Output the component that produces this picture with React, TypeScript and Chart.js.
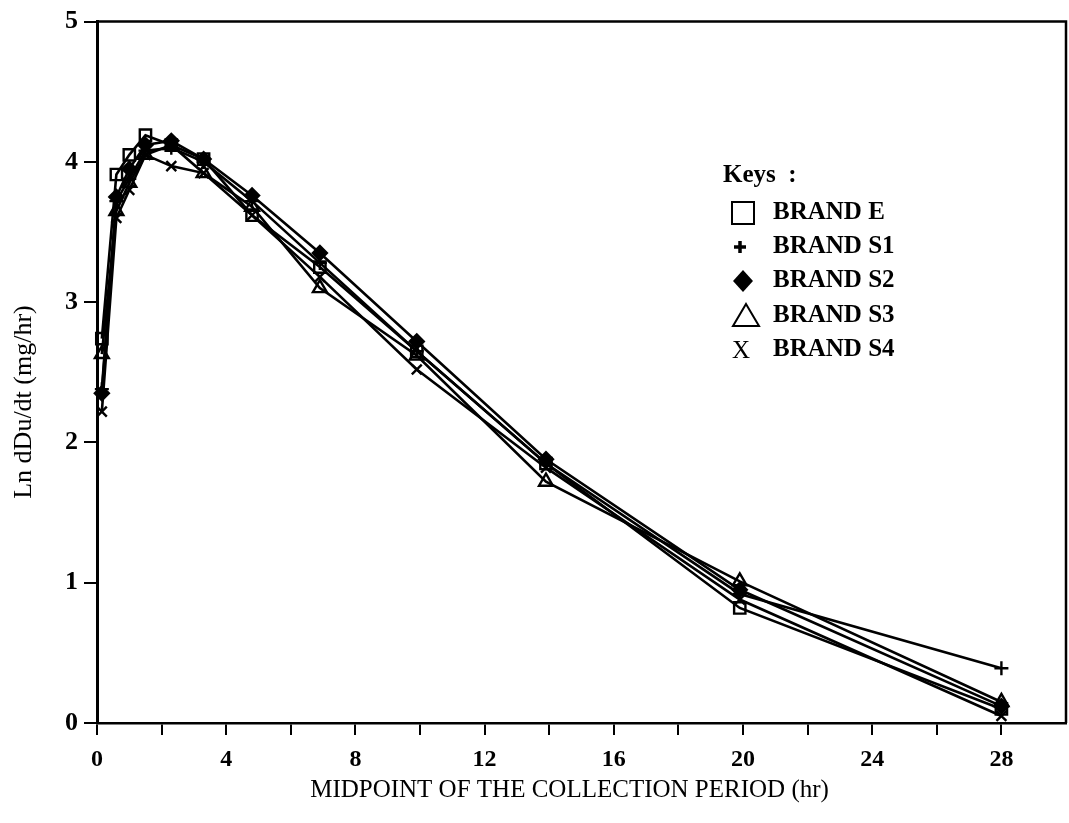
import React, { useEffect, useRef } from 'react';
import { Chart, registerables } from 'chart.js';

Chart.register(...registerables);

// Midpoint of the collection period (hr)
const hours = [0.15, 0.6, 1.0, 1.5, 2.3, 3.3, 4.8, 6.9, 9.9, 13.9, 19.9, 28];
// Ln dDu/dt (mg/hr)
const brandE = [2.74, 3.91, 4.05, 4.19, 4.12, 4.02, 3.62, 3.25, 2.65, 1.85, 0.82, 0.1];
const brandS1 = [2.38, 3.72, 3.88, 4.08, 4.1, 4.0, 3.72, 3.28, 2.65, 1.85, 0.92, 0.39];
const brandS2 = [2.35, 3.75, 3.95, 4.12, 4.15, 4.02, 3.76, 3.35, 2.72, 1.88, 0.95, 0.12];
const brandS3 = [2.63, 3.65, 3.85, 4.05, 4.12, 3.92, 3.68, 3.1, 2.62, 1.72, 1.01, 0.15];
const brandS4 = [2.22, 3.6, 3.8, 4.05, 3.97, 3.92, 3.62, 3.18, 2.52, 1.82, 0.88, 0.05];
const seriesNames = ['BRAND E', 'BRAND S1', 'BRAND S2', 'BRAND S3', 'BRAND S4'];
const xTickLabels = ['0', '4', '8', '12', '16', '20', '24', '28'];
const yTickLabels = ['0', '1', '2', '3', '4', '5'];
const xTitle = 'MIDPOINT OF THE COLLECTION PERIOD (hr)';
const yTitle = 'Ln dDu/dt (mg/hr)';
const legendTitle = 'Keys  :';

const SERIF = '"Liberation Serif", "Times New Roman", serif';

const overlay = {
  id: 'overlay',
  afterDraw(chart: any) {
    const { ctx, chartArea: a } = chart;
    ctx.save();
    ctx.strokeStyle = '#000';
    ctx.fillStyle = '#000';
    // frame top & right
    ctx.lineWidth = 2.5;
    ctx.beginPath();
    ctx.moveTo(a.left, a.top);
    ctx.lineTo(a.right, a.top);
    ctx.lineTo(a.right, a.bottom);
    ctx.stroke();

    // axis titles
    ctx.font = `25px ${SERIF}`;
    ctx.textAlign = 'center';
    ctx.textBaseline = 'middle';
    ctx.fillText(xTitle, (a.left + a.right) / 2 - 12, 790);
    ctx.save();
    ctx.translate(24, 402);
    ctx.rotate(-Math.PI / 2);
    ctx.font = `26px ${SERIF}`;
    ctx.fillText(yTitle, 0, 0);
    ctx.restore();

    // legend
    ctx.textAlign = 'left';
    ctx.font = `bold 25px ${SERIF}`;
    ctx.fillText(legendTitle, 723, 176);
    const rows = [213, 247, 281, 316, 350];
    const mx = 743;
    seriesNames.forEach((name, i) => ctx.fillText(name, 773, rows[i]));
    // square
    ctx.lineWidth = 2;
    ctx.strokeRect(mx - 11, rows[0] - 11, 22, 22);
    // plus
    ctx.lineWidth = 3.5;
    ctx.beginPath();
    ctx.moveTo(mx - 9, rows[1]);
    ctx.lineTo(mx + 3, rows[1]);
    ctx.moveTo(mx - 3, rows[1] - 6);
    ctx.lineTo(mx - 3, rows[1] + 6);
    ctx.stroke();
    // diamond
    ctx.beginPath();
    ctx.moveTo(mx, rows[2] - 11);
    ctx.lineTo(mx + 10, rows[2]);
    ctx.lineTo(mx, rows[2] + 11);
    ctx.lineTo(mx - 10, rows[2]);
    ctx.closePath();
    ctx.fill();
    // triangle
    ctx.lineWidth = 2;
    ctx.beginPath();
    ctx.moveTo(mx + 3, rows[3] - 12);
    ctx.lineTo(mx + 16, rows[3] + 10);
    ctx.lineTo(mx - 10, rows[3] + 10);
    ctx.closePath();
    ctx.stroke();
    // X
    ctx.font = `25px ${SERIF}`;
    ctx.textAlign = 'center';
    ctx.fillText('X', mx - 2, rows[4] + 1);
    ctx.restore();
  },
};

export default function App() {
  const ref = useRef<HTMLCanvasElement>(null);
  useEffect(() => {
    const canvas = ref.current;
    if (!canvas) return;
    const all = [brandE, brandS1, brandS2, brandS3, brandS4];
    const styles = [
      { ps: 'rect', r: 8, fill: 'rgba(0,0,0,0)' },
      { ps: 'cross', r: 7, fill: 'rgba(0,0,0,0)' },
      { ps: 'rectRot', r: 7, fill: '#000' },
      { ps: 'triangle', r: 8, fill: 'rgba(0,0,0,0)' },
      { ps: 'crossRot', r: 7, fill: 'rgba(0,0,0,0)' },
    ];
    const datasets = all.map((vals, i) => ({
      label: seriesNames[i],
      data: vals.map((v, j) => ({ x: hours[j], y: v })),
      showLine: true,
      borderColor: '#000',
      borderWidth: 2.6,
      tension: 0,
      fill: false,
      clip: false,
      pointStyle: styles[i].ps,
      pointRadius: styles[i].r,
      pointBorderWidth: 2.4,
      pointBorderColor: '#000',
      pointBackgroundColor: styles[i].fill,
      backgroundColor: styles[i].fill,
    }));
    const chart = new Chart(canvas, {
      type: 'scatter',
      data: { datasets } as any,
      options: {
        responsive: false,
        animation: false,
        layout: { autoPadding: false, padding: { top: 18, right: 3, left: 0, bottom: 0 } },
        plugins: { legend: { display: false }, tooltip: { enabled: false } },
        scales: {
          x: {
            type: 'linear',
            min: 0,
            max: 30,
            afterFit: (s: any) => {
              s.height = 100;
              s.paddingRight = 0;
              s.paddingLeft = 0;
            },
            ticks: {
              stepSize: 2,
              autoSkip: false,
              maxRotation: 0,
              padding: 10,
              color: '#000',
              font: { family: SERIF, size: 24, weight: 'bold' },
              callback: (v: any) => (xTickLabels.includes(String(v)) ? String(v) : ''),
            },
            grid: {
              drawOnChartArea: false,
              drawTicks: true,
              tickLength: 12,
              lineWidth: 2,
              color: (c: any) => (c.tick && c.tick.value === 30 ? 'rgba(0,0,0,0)' : '#000'),
            },
            border: { display: true, color: '#000', width: 2.5 },
          },
          y: {
            type: 'linear',
            min: 0,
            max: 5,
            afterFit: (s: any) => {
              s.width = 97;
            },
            ticks: {
              stepSize: 1,
              padding: 6,
              color: '#000',
              font: { family: SERIF, size: 26, weight: 'bold' },
              callback: (v: any) => (yTickLabels.includes(String(v)) ? String(v) : ''),
            },
            grid: {
              drawOnChartArea: false,
              drawTicks: true,
              tickLength: 13,
              lineWidth: 2,
              color: '#000',
            },
            border: { display: true, color: '#000', width: 3 },
          },
        },
      } as any,
      plugins: [overlay],
    });
    return () => chart.destroy();
  }, []);
  return (
    <canvas
      ref={ref}
      width={1069}
      height={823}
      style={{ position: 'fixed', left: 0, top: 0, display: 'block', background: '#fff' }}
    />
  );
}
